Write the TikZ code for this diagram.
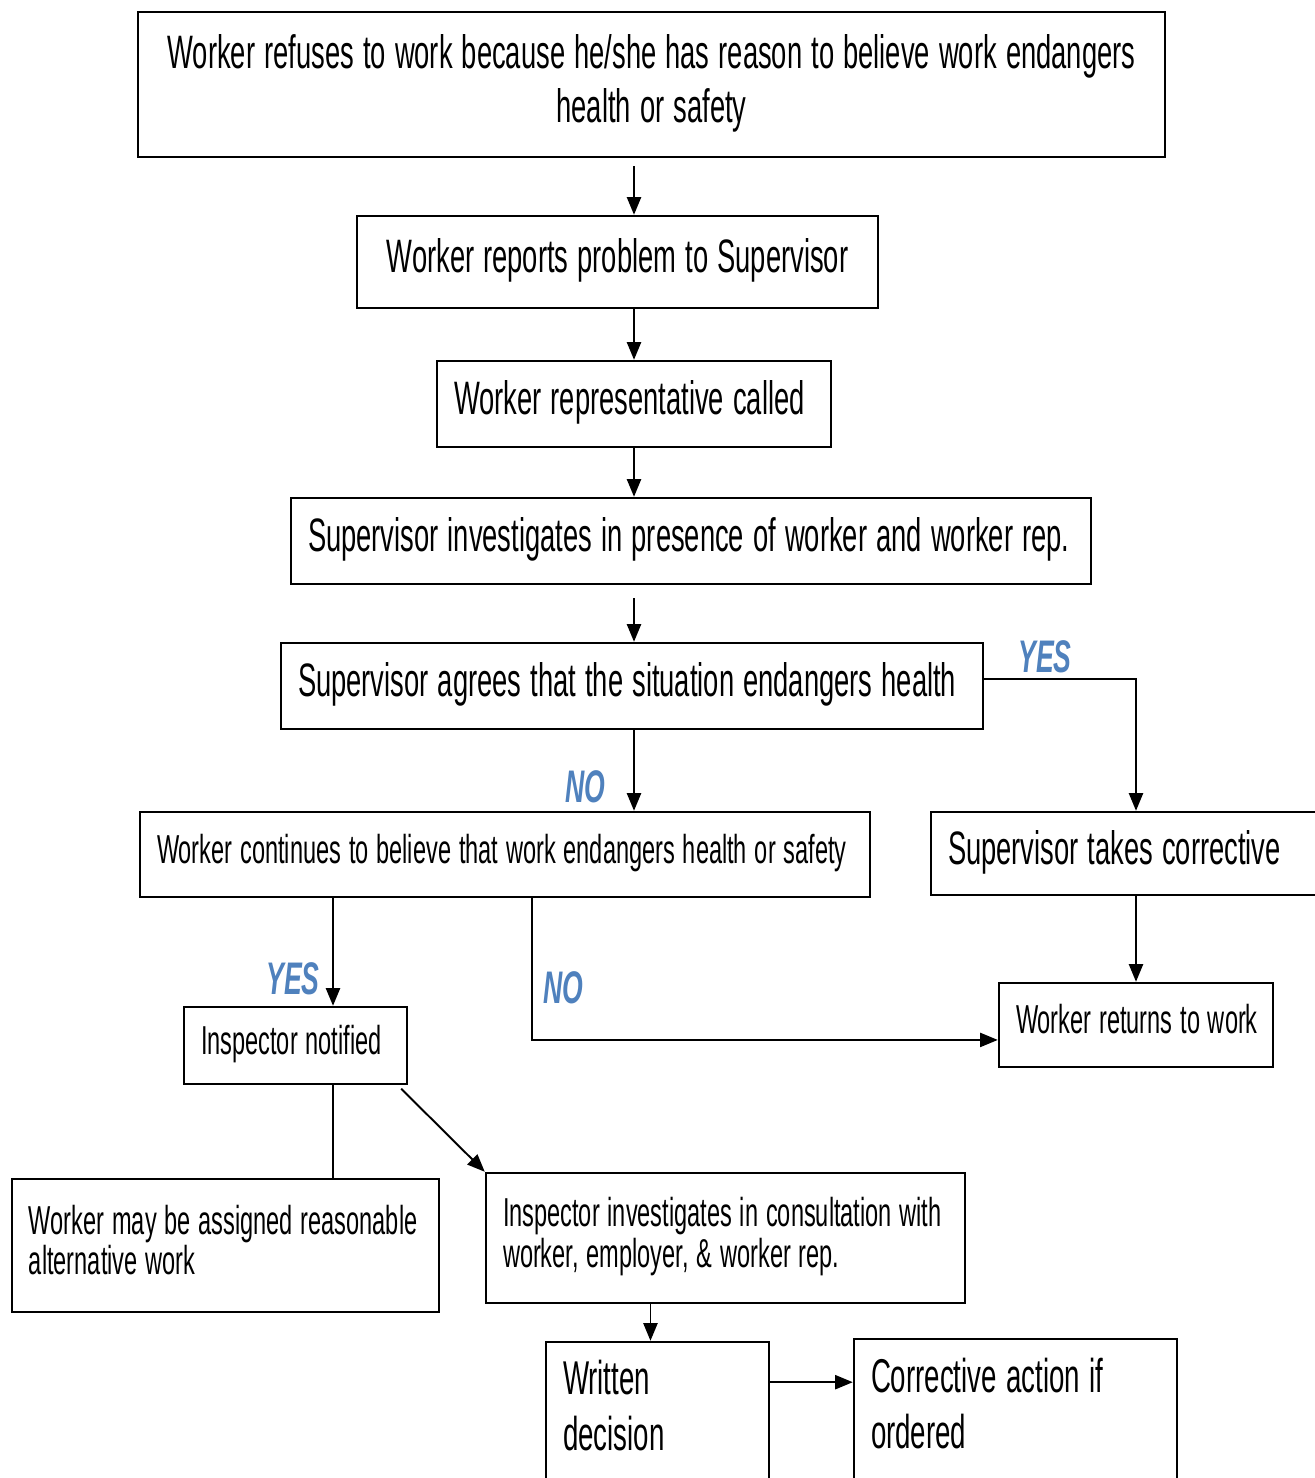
\documentclass[tikz,border=0pt]{standalone}
\usepackage{fontspec}
\usepackage{graphicx}
\setmainfont{Liberation Sans}
\usetikzlibrary{arrows.meta}
\newlength\pxu
\setlength\pxu{0.02cm}
\newlength\boxtw
\definecolor{answer}{RGB}{79,129,189}
\newcommand\sq[2][l]{\scalebox{0.583}[1]{\begin{tabular}{@{}#1@{}}#2\end{tabular}}}

\begin{document}
\begin{tikzpicture}[x=0.02cm,y=-0.02cm,
  box/.style 2 args={draw, line width=1.4pt, minimum width=#1*\pxu, minimum height=#2*\pxu,
    /utils/exec={\setlength\boxtw{#1\pxu}\addtolength\boxtw{-34\pxu}},
    text width=\boxtw, inner xsep=9.6pt, inner ysep=0pt, align=left},
  big/.style={font=\fontsize{26.7}{31}\selectfont},
  small/.style={font=\fontsize{23}{21.5}\selectfont},
  arr/.style={-{Triangle[length=10pt,width=8pt]}, line width=1.1pt},
  link/.style={line width=1.1pt},
  answer/.style={text=answer, font=\fontsize{26}{28}\selectfont\bfseries\itshape, inner sep=0pt}]
\useasboundingbox (0,0) rectangle (1315,1478);

\node[box={1027}{145}, big, align=center] (b1) at (651.5,84.5) {\sq[c]{Worker refuses to work because he/she has reason to believe work endangers\\ health or safety}};
\node[box={521}{92}, big, align=center] (b2) at (617.5,262) {\sq{Worker reports problem to Supervisor}};
\node[box={394}{86}, big] (b3) at (634,404) {\sq{Worker representative called}};
\node[box={800}{86}, big] (b4) at (691,541) {\sq{Supervisor investigates in presence of worker and worker rep.}};
\node[box={702}{86}, big] (b5) at (632,686) {\sq{Supervisor agrees that the situation endangers health}};
\node[box={730}{85}, small] (b6) at (505,854.5) {\sq{Worker continues to believe that work endangers health or safety}};
\node[box={400}{83}, big] (b7) at (1131,853.5) {\sq{Supervisor takes corrective}};
\node[box={274}{84}, small] (b8) at (1136,1025) {\sq{Worker returns to work}};
\node[box={223}{77}, small] (b9) at (295.5,1045.5) {\sq{Inspector notified}};
\node[box={427}{133}, small] (b10) at (225.5,1245.5) {\sq{Worker may be assigned reasonable\\ alternative work}};
\node[box={479}{130}, small] (b11) at (725.5,1238) {\sq{Inspector investigates in consultation with\\ worker, employer, \& worker rep.}};
\node[box={223}{138}, font=\fontsize{27}{32}\selectfont] (b12) at (657.5,1411) {\sq{Written\\ decision}};
\node[box={323}{141}, font=\fontsize{27}{32}\selectfont] (b13) at (1015.5,1409.5) {\sq{Corrective action if\\ ordered}};

\coordinate (yes) at (333,1000);
\coordinate (no) at (532,1000);

\draw[arr, shorten <=4.5pt] (b1.south -| b3.north) -- (b2.north -| b3.north);
\draw[arr] (b2.south -| b3.north) -- (b3.north);
\draw[arr] (b3.south) -- (b4.north -| b3.south);
\draw[arr, shorten <=7.4pt] (b4.south -| b3.south) -- (b5.north -| b3.south);
\draw[arr] (b5.south -| b3.south) -- (b6.north -| b3.south);
\draw[arr] ([yshift=4pt]b5.east) -| (b7.north -| b8.north);
\draw[arr] (b7.south -| b8.north) -- (b8.north);
\draw[arr] (b6.south -| yes) -- (b9.north -| yes);
\draw[arr] (b6.south -| no) |- ([yshift=-8.5pt]b8.west);
\draw[link] (b9.south -| yes) -- (b10.north -| yes);
\draw[arr] ([xshift=-4pt,yshift=-2pt]b9.south east) -- (b11.north west);
\draw[arr] ([xshift=-4pt]b12.north |- b11.south) -- ([xshift=-4pt]b12.north);
\draw[arr] ([yshift=16.4pt]b12.east) -- ([yshift=16.4pt]b12.east -| b13.west);

\node[answer] (no5) at (585,793) {\sq{NO}};
\node[answer] (yes5) at (1045,663) {\sq{YES}};
\node[answer] (yes6) at (293,985) {\sq{YES}};
\node[answer] (no6) at (563,994) {\sq{NO}};


\end{tikzpicture}
\end{document}
